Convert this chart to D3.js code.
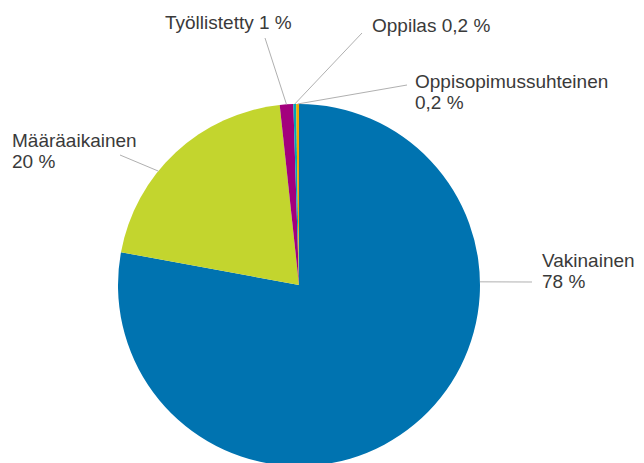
<!DOCTYPE html>
<html>
<head>
<meta charset="utf-8">
<script src="https://cdn.jsdelivr.net/npm/d3@7"></script>
<style>
  body { margin: 0; background: #fff; }
  svg { display: block; }
  text { font-family: "Liberation Sans", Arial, sans-serif; font-size: 19px; fill: #3a3a3a; }
</style>
</head>
<body>
<svg width="644" height="463"></svg>
<script>
// data
const categories = ["Vakinainen", "Määräaikainen", "Työllistetty", "Oppilas", "Oppisopimussuhteinen"];
const values = [77.9, 20.4, 1.2, 0.25, 0.25];
const valueLabels = ["78 %", "20 %", "1 %", "0,2 %", "0,2 %"];
const colors = ["#0073b0", "#c3d52e", "#a3007d", "#00a6b5", "#f0a800"];

// label layout (leader angle on the rim in degrees, leader end, text lines)
const layout = [
    {angle: 89,   end: [532, 282], x: 542, y: 267, lines: 2},
    {angle: 309,  end: [120, 155], x: 12,  y: 147, lines: 2},
    {angle: null, end: [265, 38],  x: 165, y: 29,  lines: 1},
    {angle: null, end: [362, 33],  x: 372, y: 32,  lines: 1},
    {angle: null, end: [407, 85],  x: 415, y: 88,  lines: 2}
];

let svg = d3.select("svg"),
    cx = 299, cy = 285, r = 181;

let pie = d3.pie().sort(null).value(d => d.value);
let arcs = pie(categories.map((c, i) => ({name: c, value: values[i], label: valueLabels[i], i: i})));

let arc = d3.arc().innerRadius(0).outerRadius(r);

let g = svg.append("g").attr("transform", `translate(${cx},${cy})`);

g.selectAll("path")
    .data(arcs).enter().append("path")
        .attr("d", arc)
        .attr("fill", d => colors[d.data.i]);

function rim(a){
    return [cx + r * Math.sin(a), cy - r * Math.cos(a)];
}

arcs.forEach((d) => {
    let l = layout[d.data.i];
    let a = l.angle == null ? (d.startAngle + d.endAngle) / 2 : l.angle * Math.PI / 180;
    let p = rim(a);
    svg.append("line")
        .attr("x1", p[0]).attr("y1", p[1])
        .attr("x2", l.end[0]).attr("y2", l.end[1])
        .attr("stroke", "#b0b0b0")
        .attr("stroke-width", 1);

    let t = svg.append("text").attr("x", l.x).attr("y", l.y);
    if(l.lines == 2){
        t.append("tspan").attr("x", l.x).text(d.data.name);
        t.append("tspan").attr("x", l.x).attr("dy", 21).text(d.data.label);
    }else{
        t.text(d.data.name + " " + d.data.label);
    }
});
</script>
</body>
</html>
